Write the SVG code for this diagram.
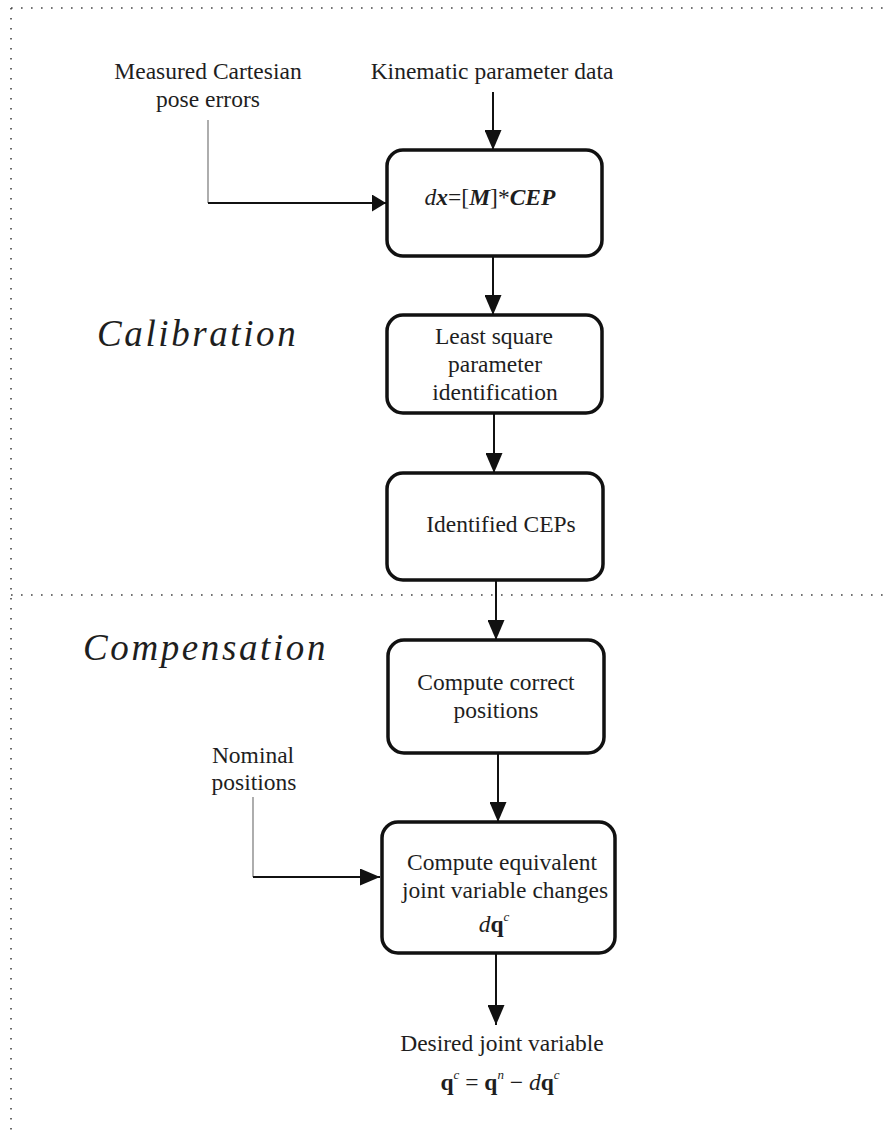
<svg xmlns="http://www.w3.org/2000/svg" width="889" height="1137" viewBox="0 0 889 1137">
  <defs>
    <style>
      text { font-family: "Liberation Serif", "Times New Roman", serif; fill: #1e1e1e; }
      .lbl { font-size: 23.5px; text-anchor: middle; }
      .sect { font-size: 37px; font-style: italic; letter-spacing: 2.6px; }
      .box { fill: #ffffff; stroke: #111; stroke-width: 3.5; }
      .dots { stroke: #444; stroke-width: 1.6; stroke-dasharray: 1.6 8.4; fill: none; }
      .flow { stroke: #111; stroke-width: 2; fill: none; }
      .feed { stroke: #777; stroke-width: 1.2; fill: none; }
      .bi { font-weight: bold; font-style: italic; }
      .it { font-style: italic; }
      .b { font-weight: bold; }
    </style>
    <marker id="ah" markerWidth="20" markerHeight="17" refX="20" refY="8.5" orient="auto" markerUnits="userSpaceOnUse">
      <path d="M0,0 L20,8.5 L0,17 Z" fill="#111"/>
    </marker>
    <marker id="ahs" markerWidth="14" markerHeight="17" refX="14" refY="8.5" orient="auto" markerUnits="userSpaceOnUse">
      <path d="M0,0 L14,8.5 L0,17 Z" fill="#111"/>
    </marker>
  </defs>

  <!-- dotted frame and section divider -->
  <g id="frame">
    <line class="dots" x1="11" y1="8" x2="889" y2="8"/>
    <line class="dots" x1="11" y1="8" x2="11" y2="1137"/>
    <line class="dots" x1="11" y1="595" x2="889" y2="595"/>
  </g>

  <!-- section titles -->
  <g id="sections">
    <text class="sect" x="97" y="346">Calibration</text>
    <text class="sect" x="83" y="660">Compensation</text>
  </g>

  <!-- connectors -->
  <g id="connectors">
    <line class="flow" x1="493" y1="92" x2="493" y2="150" marker-end="url(#ah)"/>
    <polyline class="feed" points="208,120 208,203"/>
    <line class="flow" x1="208" y1="203" x2="386" y2="203" marker-end="url(#ahs)"/>
    <line class="flow" x1="493" y1="256" x2="493" y2="315" marker-end="url(#ah)"/>
    <line class="flow" x1="494" y1="413" x2="494" y2="473" marker-end="url(#ah)"/>
    <line class="flow" x1="496" y1="580" x2="496" y2="640" marker-end="url(#ah)"/>
    <line class="flow" x1="498" y1="753" x2="498" y2="822" marker-end="url(#ah)"/>
    <polyline class="feed" points="253,797 253,877"/>
    <line class="flow" x1="253" y1="877" x2="380" y2="877" marker-end="url(#ah)"/>
    <line class="flow" x1="496" y1="953" x2="496" y2="1025" marker-end="url(#ah)"/>
  </g>

  <!-- input labels -->
  <g id="in-pose">
    <text class="lbl" x="208" y="79">Measured Cartesian</text>
    <text class="lbl" x="208" y="107">pose errors</text>
  </g>
  <g id="in-kinematic">
    <text class="lbl" x="492" y="79">Kinematic parameter data</text>
  </g>

  <!-- calibration blocks -->
  <g id="model">
    <rect class="box" x="387" y="150" width="215" height="106" rx="16"/>
    <text class="lbl" x="490" y="205"><tspan class="it">d</tspan><tspan class="bi">x</tspan>=[<tspan class="bi">M</tspan>]*<tspan class="bi">CEP</tspan></text>
  </g>
  <g id="least-square">
    <rect class="box" x="387" y="315" width="215" height="98" rx="16"/>
    <text class="lbl" x="494" y="344">Least square</text>
    <text class="lbl" x="495" y="372">parameter</text>
    <text class="lbl" x="495" y="400">identification</text>
  </g>
  <g id="identified">
    <rect class="box" x="387" y="473" width="216" height="107" rx="16"/>
    <text class="lbl" x="501" y="532">Identified CEPs</text>
  </g>

  <!-- compensation blocks -->
  <g id="correct-positions">
    <rect class="box" x="388" y="640" width="216" height="113" rx="16"/>
    <text class="lbl" x="496" y="690">Compute correct</text>
    <text class="lbl" x="496" y="718">positions</text>
  </g>
  <g id="in-nominal">
    <text class="lbl" x="253" y="763">Nominal</text>
    <text class="lbl" x="254" y="790">positions</text>
  </g>
  <g id="joint-changes">
    <rect class="box" x="382" y="822" width="233" height="131" rx="16"/>
    <text class="lbl" x="502" y="870">Compute equivalent</text>
    <text class="lbl" x="505" y="898">joint variable changes</text>
    <text class="lbl" x="494" y="932"><tspan class="it">d</tspan><tspan class="b">q</tspan><tspan class="it" font-size="13" dy="-11">c</tspan></text>
  </g>

  <!-- output -->
  <g id="output">
    <text class="lbl" x="502" y="1051">Desired joint variable</text>
    <text class="lbl" x="500" y="1090"><tspan class="b">q</tspan><tspan class="it" font-size="13" dy="-11">c</tspan><tspan dy="11"> = </tspan><tspan class="b">q</tspan><tspan class="it" font-size="13" dy="-11">n</tspan><tspan dy="11"> − </tspan><tspan class="it">d</tspan><tspan class="b">q</tspan><tspan class="it" font-size="13" dy="-11">c</tspan></text>
  </g>
</svg>
